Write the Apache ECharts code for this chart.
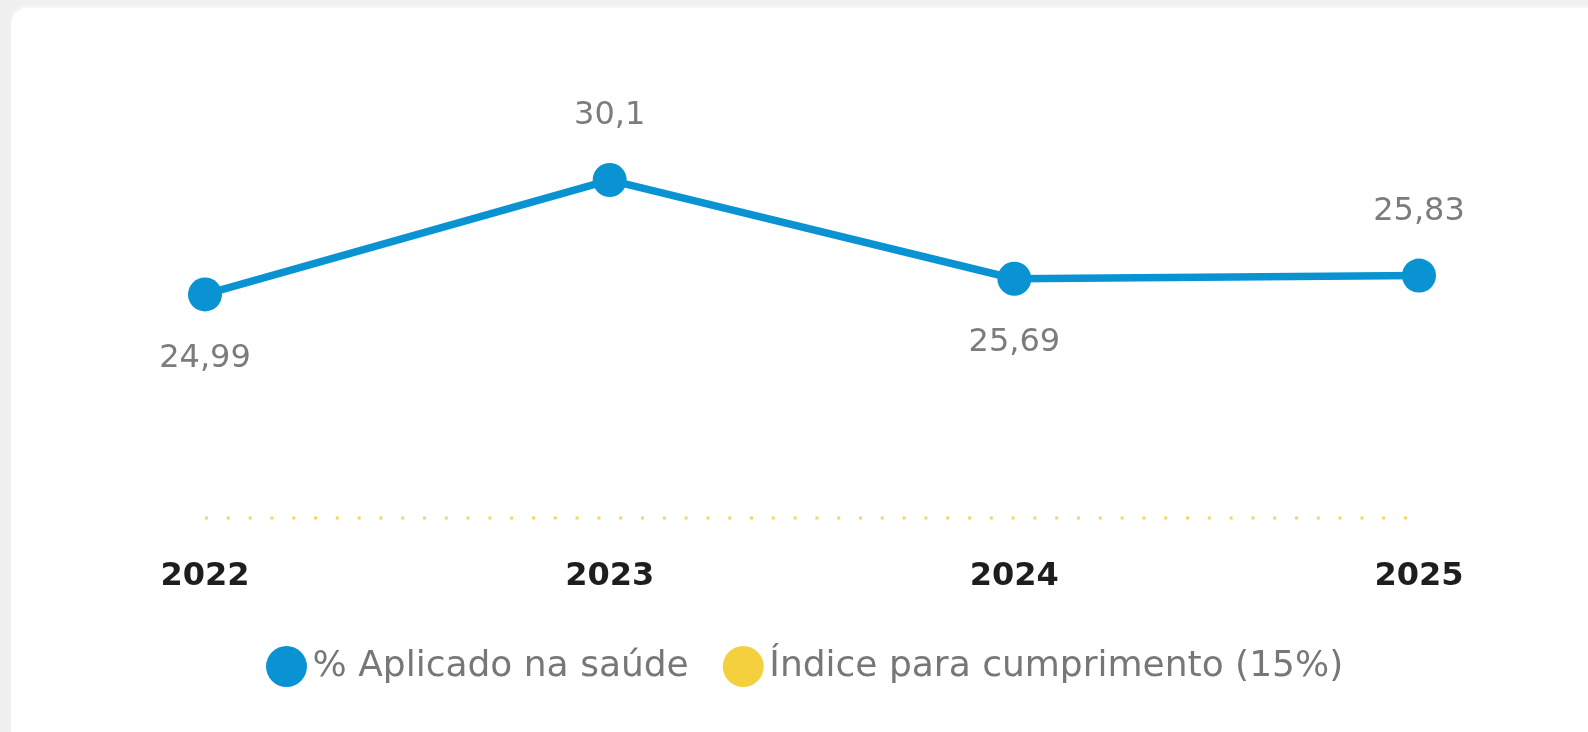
<!DOCTYPE html>
<html>
<head>
<meta charset="utf-8">
<script src="https://cdn.jsdelivr.net/npm/echarts@6/dist/echarts.min.js"></script>
<style>
  html, body { margin: 0; padding: 0; background: #f0f0f0; overflow: hidden; }
  .card {
    position: absolute; left: 11px; top: 8px; width: 1620px; height: 760px;
    background: #fff; border-radius: 16px; box-shadow: 0 -3px 0 #f5f5f5;
  }
  #chart { position: absolute; left: 0; top: 0; width: 1588px; height: 732px; }
</style>
</head>
<body>
<div class="card"></div>
<div id="chart"></div>
<script>
const years = ["2022", "2023", "2024", "2025"];
const appliedPct = [24.99, 30.1, 25.69, 25.83];
const thresholdPct = [15, 15, 15, 15];
const appliedName = "% Aplicado na saúde";
const thresholdName = "Índice para cumprimento (15%)";

const blue = "#0a93d3";
const yellow = "#f4d03f";

// label goes above when the value went up, below otherwise
const appliedData = appliedPct.map((v, i) => ({
  value: v,
  label: { position: i > 0 && v >= appliedPct[i - 1] ? "top" : "bottom" }
}));

const chart = echarts.init(document.getElementById("chart"));
chart.setOption({
  animation: false,
  backgroundColor: "transparent",
  grid: { left: 205, right: 169, top: 137.5, bottom: 169.2 },
  legend: {
    bottom: 40,
    left: 261,
    icon: "circle",
    itemWidth: 42,
    itemHeight: 41,
    itemGap: 34,
    textStyle: { fontFamily: "DejaVu Sans", fontSize: 36, color: "#777" },
    data: [appliedName, thresholdName]
  },
  xAxis: {
    type: "category",
    data: years,
    boundaryGap: false,
    axisLine: { show: false },
    axisTick: { show: false },
    axisLabel: {
      margin: -2,
      fontFamily: "DejaVu Sans",
      fontWeight: "bold",
      fontSize: 32,
      color: "#1e1e1e"
    }
  },
  yAxis: {
    type: "value",
    min: 13,
    max: 32,
    show: false
  },
  series: [
    {
      name: appliedName,
      type: "line",
      data: appliedData,
      symbol: "circle",
      symbolSize: 34,
      color: blue,
      lineStyle: { width: 7.5, color: blue },
      label: {
        show: true,
        distance: 31,
        fontFamily: "DejaVu Sans",
        fontSize: 32,
        color: "#7c7c7c",
        formatter: p => String(p.value).replace(".", ",")
      }
    },
    {
      name: thresholdName,
      type: "line",
      data: thresholdPct,
      symbol: "none",
      color: yellow,
      lineStyle: { width: 3, color: yellow, type: [3, 18.8], opacity: 0.85 }
    }
  ]
});
</script>
</body>
</html>
